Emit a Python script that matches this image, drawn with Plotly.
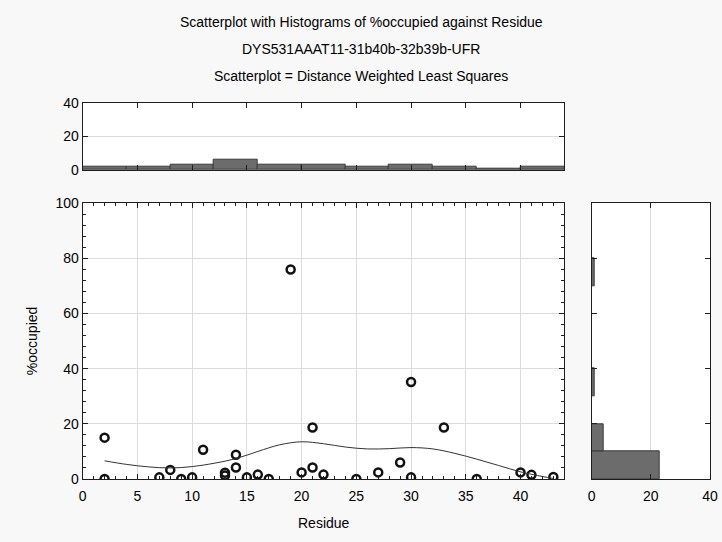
import numpy as np
import plotly.graph_objects as go

# Residue position and percent occupied for each observation
residue = [2, 2, 7, 8, 9, 10, 11, 13, 13, 14, 14, 15, 16, 17, 19, 20, 21, 21, 22,
           25, 27, 29, 30, 30, 33, 36, 40, 41, 43]
occupied = [15.0, 0.0, 0.6, 3.3, 0.0, 0.6, 10.6, 2.3, 1.3, 8.8, 4.2, 0.6, 1.6, 0.0, 76.0, 2.4, 18.7, 4.2, 1.6,
            0.0, 2.4, 6.0, 35.2, 0.6, 18.7, 0.0, 2.4, 1.5, 0.7]

# Distance weighted least squares smoother
dwls_x = [2, 4, 6, 8, 10, 12, 14, 16, 18, 20, 22, 24, 26, 28, 30, 32, 34, 36, 38, 40, 42, 43]
dwls_y = [6.6, 5.3, 4.4, 4.0, 4.5, 5.7, 7.4, 10.0, 12.4, 13.5, 12.8, 11.6, 10.9, 11.0, 11.4, 10.9, 9.3, 7.2, 4.9, 2.6, 0.9, 0.2]

x_edges = np.arange(0, 48, 4)      # residue bins
y_edges = np.arange(0, 110, 10)    # %occupied bins

title_lines = ["Scatterplot with Histograms of %occupied against Residue",
               "DYS531AAAT11-31b40b-32b39b-UFR",
               "Scatterplot = Distance Weighted Least Squares"]

W, H = 722, 542
FONT = "Liberation Sans, Arial, sans-serif"
AX = "#1e1e1e"
GRID = "#dcdcdc"
BAR_FILL = "#6c6c6c"
BAR_LINE = "#3a3a3a"
TEXT_SIZE = 14
TICK_SIZE = 14

rx = np.array(residue, dtype=float)
oy = np.array(occupied, dtype=float)
# residue counts in (lo, hi] bins, occupancy counts in [lo, hi) bins
x_counts = [int(np.sum((rx > lo) & (rx <= hi))) for lo, hi in zip(x_edges[:-1], x_edges[1:])]
y_counts = [int(np.sum((oy >= lo) & (oy < hi))) for lo, hi in zip(y_edges[:-1], y_edges[1:])]
x_mid = (x_edges[:-1] + x_edges[1:]) / 2
y_mid = (y_edges[:-1] + y_edges[1:]) / 2


def px_x(p):
    return p / W


def px_y(p):
    return 1 - p / H


fig = go.Figure()

# main scatter
fig.add_trace(go.Scatter(
    x=residue, y=occupied, mode="markers", xaxis="x", yaxis="y",
    marker=dict(symbol="circle-open", size=8, color="#111111", line=dict(width=2.5, color="#111111")),
    cliponaxis=True, showlegend=False))
fig.add_trace(go.Scatter(
    x=dwls_x, y=dwls_y, mode="lines", xaxis="x", yaxis="y",
    line=dict(color="#333333", width=1, shape="spline", smoothing=1.0),
    showlegend=False))

# residue histogram on top
fig.add_trace(go.Bar(
    x=x_mid, y=x_counts, width=4, xaxis="x2", yaxis="y2",
    marker=dict(color=BAR_FILL, line=dict(color=BAR_LINE, width=1)),
    showlegend=False))

# occupancy histogram on the right
fig.add_trace(go.Bar(
    y=y_mid, x=y_counts, width=10, orientation="h", xaxis="x3", yaxis="y3",
    marker=dict(color=BAR_FILL, line=dict(color=BAR_LINE, width=1)),
    showlegend=False))

main_left, main_right = 82.7, 564.3
main_top, main_bottom = 203.3, 479.0
top_top, top_bottom = 102.7, 170.0
right_left, right_right = 591.7, 710.0

common = dict(showline=True, linecolor=AX, linewidth=1, mirror="allticks",
              ticks="inside", tickcolor=AX, ticklen=5, zeroline=False,
              gridcolor=GRID, gridwidth=1, automargin=False,
              tickfont=dict(family=FONT, size=TICK_SIZE, color="#000000"))

fig.update_layout(
    width=W, height=H,
    margin=dict(l=0, r=0, t=0, b=0, pad=0, autoexpand=False),
    paper_bgcolor="#f8f8f8", plot_bgcolor="#ffffff",
    font=dict(family=FONT, size=TEXT_SIZE, color="#000000"),
    bargap=0,
    xaxis=dict(domain=[px_x(main_left), px_x(main_right)], anchor="y",
               range=[0, 44], tick0=0, dtick=5, showgrid=True, ticklabelstandoff=4,
               minor=dict(dtick=1, ticks="inside", ticklen=3, tickcolor=AX, showgrid=False),
               **common),
    yaxis=dict(domain=[px_y(main_bottom), px_y(main_top)], anchor="x",
               range=[0, 100], tick0=0, dtick=20, showgrid=True,
               minor=dict(dtick=4, ticks="inside", ticklen=3, tickcolor=AX, showgrid=False),
               **common),
    xaxis2=dict(domain=[px_x(main_left), px_x(main_right)], anchor="y2",
                range=[0, 44], tick0=0, dtick=5, showgrid=False, showticklabels=False,
                **common),
    yaxis2=dict(domain=[px_y(top_bottom), px_y(top_top)], anchor="x2",
                range=[0, 40], tick0=0, dtick=20, showgrid=True,
                **common),
    xaxis3=dict(domain=[px_x(right_left), px_x(right_right)], anchor="y3",
                range=[0, 40], tick0=0, dtick=20, showgrid=True, ticklabelstandoff=4,
                **common),
    yaxis3=dict(domain=[px_y(main_bottom), px_y(main_top)], anchor="x3",
                range=[0, 100], tick0=0, dtick=20, showgrid=False, showticklabels=False,
                **common),
)

annotations = []
for i, line in enumerate(title_lines):
    annotations.append(dict(text=line, x=0.5, y=px_y(22 + 27 * i), xref="paper", yref="paper",
                            xanchor="center", yanchor="middle", showarrow=False,
                            font=dict(family=FONT, size=TEXT_SIZE, color="#000000")))
annotations.append(dict(text="Residue", x=px_x((main_left + main_right) / 2), y=px_y(523),
                        xref="paper", yref="paper", xanchor="center", yanchor="middle",
                        showarrow=False, font=dict(family=FONT, size=TEXT_SIZE, color="#000000")))
annotations.append(dict(text="%occupied", x=px_x(32), y=px_y((main_top + main_bottom) / 2),
                        xref="paper", yref="paper", xanchor="center", yanchor="middle",
                        textangle=-90, showarrow=False,
                        font=dict(family=FONT, size=TEXT_SIZE, color="#000000")))
fig.update_layout(annotations=annotations)

fig.write_html("out.html")
